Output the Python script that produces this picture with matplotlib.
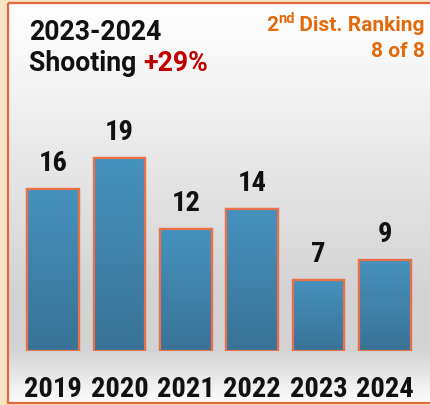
import numpy as np
import matplotlib
matplotlib.use('Agg')
import matplotlib.pyplot as plt
import matplotlib.patches as patches
from matplotlib.colors import to_rgb

# Data
years = ['2019', '2020', '2021', '2022', '2023', '2024']
shootings = [16, 19, 12, 14, 7, 9]
title_line1 = '2023-2024'
title_word = 'Shooting '
title_change = '+29%'
rank_text = ' Dist. Ranking'
rank_value = '8 of 8'

W, H = 430, 406
fig = plt.figure(figsize=(W / 100, H / 100), dpi=100)
fig.patch.set_facecolor('#fbe3c6')

# background panel with vertical gradient
bg = fig.add_axes([0, 0, 1, 1])
bg.set_xlim(0, W)
bg.set_ylim(H, 0)
bg.axis('off')
ys = np.linspace(4, 404, 400)
levels = np.interp(ys, [4, 60, 290, 352, 400, 404], [1.0, 0.97, 0.83, 0.83, 0.98, 1.0])
grad = np.repeat(levels[:, None, None], 3, axis=2)
bg.imshow(grad, extent=(8, 434, 404, 4), aspect='auto', interpolation='bilinear')
bg.add_patch(patches.Rectangle((8, 4), 430, 400, fill=False,
                               edgecolor='#e2693f', linewidth=1.6))

# bar axes
ax = fig.add_axes([8 / W, (H - 352) / H, (W - 8) / W, (352 - 5) / H])
ax.set_facecolor('none')
for s in ax.spines.values():
    s.set_visible(False)
ax.set_xlim(-0.678, 5.678)
ax.set_ylim(0, 34.2)
ax.set_yticks([])

x = np.arange(len(years))
bars = ax.bar(x, shootings, width=0.78, color='#3f85ad',
              edgecolor='#e8704a', linewidth=1.6, zorder=2)

top_c = np.array(to_rgb('#4692be'))
bot_c = np.array(to_rgb('#397297'))
t = np.linspace(0, 1, 100)[:, None, None]
bar_grad = top_c * (1 - t) + bot_c * t
for b in bars:
    x0, w, h = b.get_x(), b.get_width(), b.get_height()
    im = ax.imshow(bar_grad, extent=(x0, x0 + w, 0, h), aspect='auto',
                   interpolation='bilinear', zorder=2.5)
    im.set_clip_path(b)
    ax.add_patch(patches.Rectangle((x0, 0), w, h, fill=False,
                                   edgecolor='#e8704a', linewidth=1.6, zorder=3))

cond = dict(fontfamily='Roboto Condensed', fontweight='bold', fontsize=20.5,
            color='#111111')
ax.set_xticks(x)
ax.set_xticklabels(years, **cond)
ax.tick_params(axis='x', length=0, pad=17)

for xi, v in zip(x, shootings):
    ax.annotate(str(v), xy=(xi, v), xytext=(0, 13.5), textcoords='offset points',
                ha='center', va='baseline', **cond)

# titles
tfont = dict(fontfamily='Roboto', fontweight='bold')
fig.text(29 / W, 1 - 40 / H, title_line1, fontsize=19.2, color='#111111',
         va='baseline', ha='left', **tfont)
t1 = fig.text(29 / W, 1 - 71 / H, title_word, fontsize=19.2, color='#111111',
              va='baseline', ha='left', **tfont)
fig.canvas.draw()
r = fig.canvas.get_renderer()
bb = t1.get_window_extent(r)
fig.text(bb.x1 / W, 1 - 71 / H, title_change, fontsize=19.2, color='#c00000',
         va='baseline', ha='left', **tfont)

orange = '#e26a0c'
r1 = fig.text(425 / W, 1 - 31 / H, rank_text, fontsize=15, color=orange,
              va='baseline', ha='right', **tfont)
fig.canvas.draw()
bb = r1.get_window_extent(r)
r2 = fig.text(bb.x0 / W, 1 - 23 / H, 'nd', fontsize=10.5, color=orange,
              va='baseline', ha='right', **tfont)
fig.canvas.draw()
bb = r2.get_window_extent(r)
fig.text(bb.x0 / W, 1 - 31 / H, '2', fontsize=15, color=orange,
         va='baseline', ha='right', **tfont)
fig.text(425 / W, 1 - 57 / H, rank_value, fontsize=15, color=orange,
         va='baseline', ha='right', **tfont)

fig.savefig('out.png', dpi=100, facecolor=fig.get_facecolor())
